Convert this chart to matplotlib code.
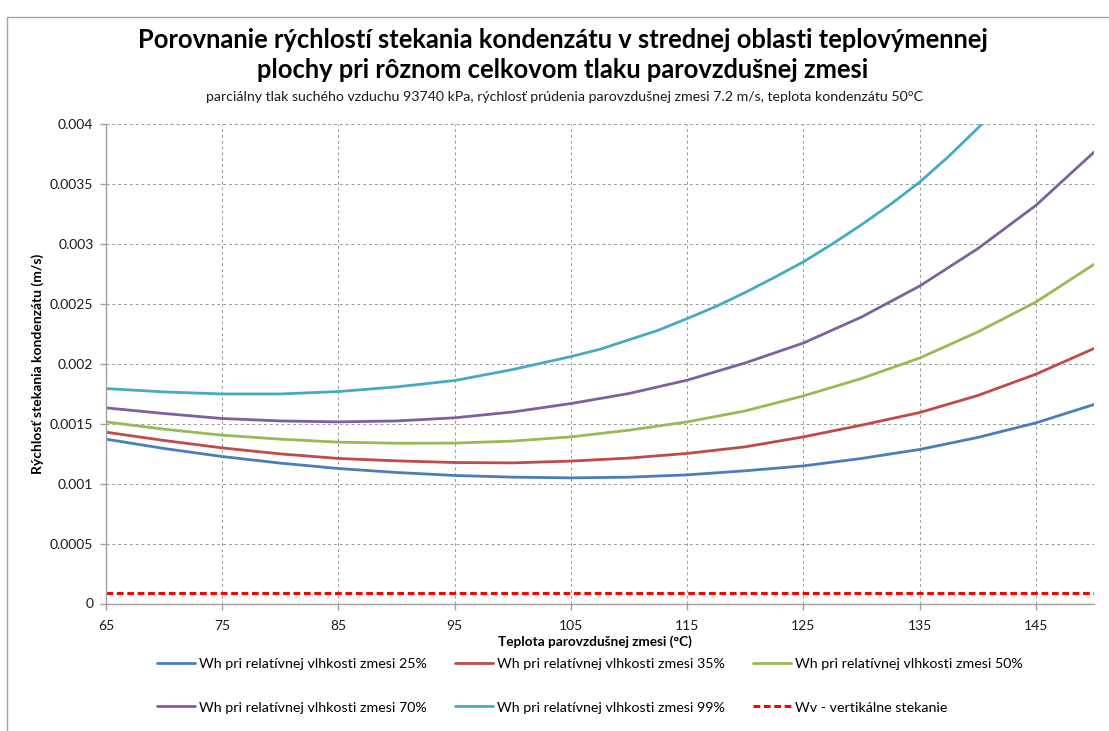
import matplotlib
matplotlib.use('Agg')
import matplotlib.pyplot as plt
from matplotlib.patches import Rectangle

plt.rcParams['font.family'] = ['Lato', 'DejaVu Sans']

# teplota parovzdusnej zmesi (C)
teplota = [65, 70, 75, 80, 85, 90, 95, 100, 105, 110, 115, 120, 125, 130, 135, 140, 145, 150]

# rychlost stekania kondenzatu (m/s)
wh_25 = [0.001371, 0.001293, 0.001226, 0.001171, 0.001126, 0.001093, 0.001068, 0.001054, 0.001048,
         0.001054, 0.001073, 0.001107, 0.001148, 0.001210, 0.001285, 0.001385, 0.001507, 0.001660]
wh_35 = [0.001429, 0.001360, 0.001298, 0.001248, 0.001210, 0.001190, 0.001176, 0.001173, 0.001188,
         0.001213, 0.001252, 0.001307, 0.001390, 0.001488, 0.001593, 0.001735, 0.001913, 0.002127]
wh_50 = [0.001515, 0.001454, 0.001404, 0.001371, 0.001346, 0.001337, 0.001338, 0.001355, 0.001390,
         0.001446, 0.001515, 0.001607, 0.001732, 0.001877, 0.002048, 0.002265, 0.002515, 0.002829]
wh_70 = [0.001632, 0.001585, 0.001543, 0.001523, 0.001515, 0.001523, 0.001549, 0.001598, 0.001668,
         0.001752, 0.001863, 0.002007, 0.002173, 0.002390, 0.002648, 0.002960, 0.003321, 0.003765]

# krivka 99% je odcitana hustejsie (strmy priebeh)
teplota_99 = [65, 70, 75, 80, 85, 90, 95, 100, 105, 107.5, 110, 112.5, 115, 117.5, 120, 122.5,
              125, 127.5, 130, 132.5, 135, 137.5, 140, 142.5, 145]
wh_99 = [0.001793, 0.001765, 0.001748, 0.001748, 0.001768, 0.001807, 0.001860, 0.001952, 0.002060,
         0.002121, 0.002200, 0.002279, 0.002377, 0.002479, 0.002595, 0.002720, 0.002850, 0.003000,
         0.003160, 0.003330, 0.003515, 0.003730, 0.003965, 0.004220, 0.004500]
wv = [0.000085] * len(teplota)

nazvy = ['Wh pri relatívnej vlhkosti zmesi 25%',
         'Wh pri relatívnej vlhkosti zmesi 35%',
         'Wh pri relatívnej vlhkosti zmesi 50%',
         'Wh pri relatívnej vlhkosti zmesi 70%',
         'Wh pri relatívnej vlhkosti zmesi 99%',
         'Wv - vertikálne stekanie']
farby = ['#4A7EBB', '#BE4B48', '#98B954', '#7D60A0', '#46AAC5', '#FF0000']

W, H = 1109, 731
fig = plt.figure(figsize=(W / 100, H / 100), dpi=100)
fig.patches.append(Rectangle((7 / W, -0.1), 1.2, 1 - 17 / H + 0.1, transform=fig.transFigure,
                             fill=False, edgecolor='#a6a6a6', linewidth=1))

ax = fig.add_axes([106 / W, 1 - 603.5 / H, (1094 - 106) / W, (603.5 - 124) / H])

lines = []
for x, data, farba in zip([teplota] * 4 + [teplota_99], [wh_25, wh_35, wh_50, wh_70, wh_99], farby):
    l, = ax.plot(x, data, color=farba, linewidth=2.0, solid_capstyle='round', solid_joinstyle='round')
    lines.append(l)
l, = ax.plot(teplota, wv, color=farby[5], linewidth=2.2, linestyle=(0, (2.2, 1.2)))
lines.append(l)

ax.set_xlim(65, 150)
ax.set_ylim(0, 0.004)
ax.set_xticks(range(65, 150, 10))
yt = [i * 0.0005 for i in range(9)]
ax.set_yticks(yt)
ax.set_yticklabels(['{:g}'.format(round(v, 4)) for v in yt])

ax.grid(True, color='#9a9a9a', linestyle=(0, (3, 3)), linewidth=0.7)
for s in ['top', 'right']:
    ax.spines[s].set_visible(False)
for s in ['left', 'bottom']:
    ax.spines[s].set_color('#a0a0a0')
    ax.spines[s].set_linewidth(1.0)
ax.tick_params(axis='both', colors='#a0a0a0', labelcolor='#1a1a1a', labelsize=10, length=4, width=1)
ax.tick_params(axis='x', pad=8)
ax.tick_params(axis='y', pad=5)

fig.text(563 / W, 1 - 55 / H,
         'Porovnanie rýchlostí stekania kondenzátu v strednej oblasti teplovýmennej\n'
         'plochy pri rôznom celkovom tlaku parovzdušnej zmesi',
         ha='center', va='center', fontsize=18.4, fontweight='bold', linespacing=1.3, color='#000000')
fig.text(565 / W, 1 - 97 / H,
         'parciálny tlak suchého vzduchu 93740 kPa, rýchlosť prúdenia parovzdušnej zmesi 7.2 m/s, teplota kondenzátu 50°C',
         ha='center', va='center', fontsize=10.2, color='#1a1a1a')

fig.text(38 / W, 1 - 364 / H, 'Rýchlosť stekania kondenzátu (m/s)', rotation=90,
         ha='center', va='center', fontsize=10, fontweight='bold')
fig.text(595 / W, 1 - 642 / H, 'Teplota parovzdušnej zmesi (°C)',
         ha='center', va='center', fontsize=9.8, fontweight='bold')

poradie = [0, 3, 1, 4, 2, 5]
fig.legend([lines[i] for i in poradie], [nazvy[i] for i in poradie], ncol=3,
           loc='upper left', bbox_to_anchor=(157 / W, 1 - 658 / H), frameon=False,
           fontsize=10.3, handlelength=2.65, handletextpad=0.3, columnspacing=1.95,
           labelspacing=2.2, borderaxespad=0, borderpad=0)

fig.savefig('out.png', dpi=100)
